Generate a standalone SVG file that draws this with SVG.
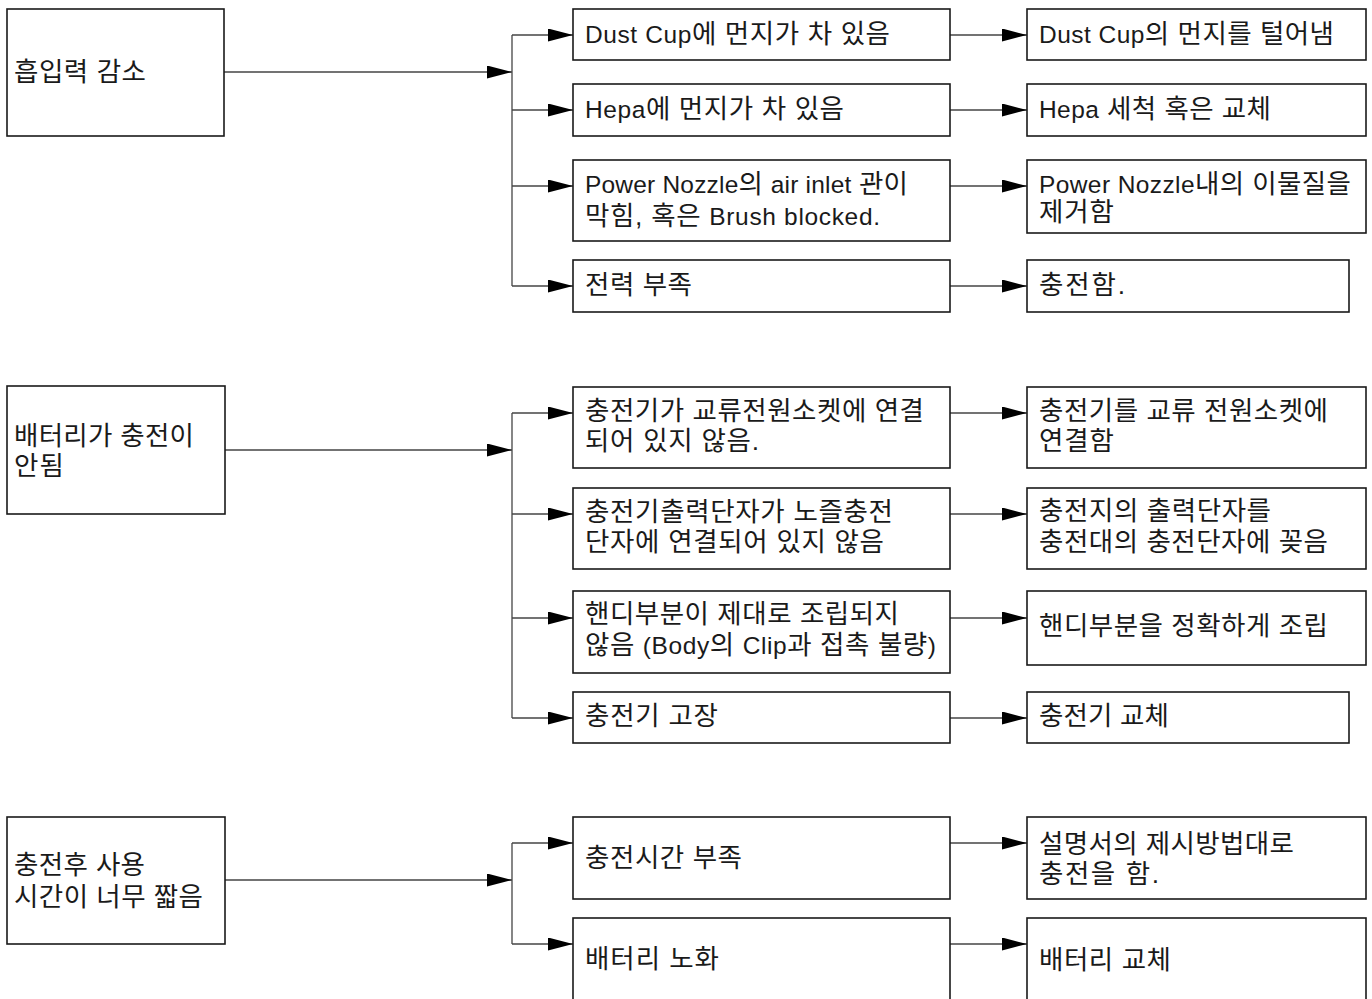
<svg xmlns="http://www.w3.org/2000/svg" width="1372" height="999" viewBox="0 0 1372 999">
<style>
.box{fill:#fff;stroke:#1a1a1a;stroke-width:1.6}
.t{font-family:"Liberation Sans","Noto Sans CJK KR",sans-serif;font-size:26.5px;fill:#1a1a1a}
.l{font-size:24.5px}
.c{fill:none;stroke:#444;stroke-width:1.3}
.a{fill:none;stroke:#444;stroke-width:1.3;marker-end:url(#ah)}
</style>
<defs>
<marker id="ah" markerUnits="userSpaceOnUse" markerWidth="26" markerHeight="14" refX="25" refY="6.5" orient="auto">
<path d="M0,0 L25,6.5 L0,13 z" fill="#000"/>
</marker>
</defs>
<rect x="0" y="0" width="1372" height="999" fill="#fff"/>

<g id="connectors">
<path class="a" d="M224,72 H512"/>
<path class="c" d="M512,35 V286"/>
<path class="a" d="M512,35 H573"/>
<path class="a" d="M512,110 H573"/>
<path class="a" d="M512,186 H573"/>
<path class="a" d="M512,286 H573"/>
<path class="a" d="M950,35 H1027"/>
<path class="a" d="M950,110 H1027"/>
<path class="a" d="M950,186 H1027"/>
<path class="a" d="M950,286 H1027"/>

<path class="a" d="M224,450 H512"/>
<path class="c" d="M512,413 V718"/>
<path class="a" d="M512,413 H573"/>
<path class="a" d="M512,514 H573"/>
<path class="a" d="M512,618 H573"/>
<path class="a" d="M512,718 H573"/>
<path class="a" d="M950,413 H1027"/>
<path class="a" d="M950,514 H1027"/>
<path class="a" d="M950,618 H1027"/>
<path class="a" d="M950,718 H1027"/>

<path class="a" d="M224,880 H512"/>
<path class="c" d="M512,843 V944"/>
<path class="a" d="M512,843 H573"/>
<path class="a" d="M512,944 H573"/>
<path class="a" d="M950,843 H1027"/>
<path class="a" d="M950,944 H1027"/>
</g>

<g id="p1">
<rect class="box" x="7" y="9" width="217" height="127"/>
<text class="t" x="14" y="81" textLength="132" lengthAdjust="spacing">흡입력 감소</text>
</g>
<g id="c1a">
<rect class="box" x="573" y="9" width="377" height="51"/>
<text class="t" x="585" y="43" textLength="305" lengthAdjust="spacing"><tspan class="l">Dust Cup</tspan>에 먼지가 차 있음</text>
</g>
<g id="c1b">
<rect class="box" x="573" y="84" width="377" height="52"/>
<text class="t" x="585" y="118" textLength="259" lengthAdjust="spacing"><tspan class="l">Hepa</tspan>에 먼지가 차 있음</text>
</g>
<g id="c1c">
<rect class="box" x="573" y="160" width="377" height="81"/>
<text class="t" x="585" y="193" textLength="323" lengthAdjust="spacing"><tspan class="l">Power Nozzle</tspan>의 <tspan class="l">air inlet</tspan> 관이</text>
<text class="t" x="585" y="225" textLength="295" lengthAdjust="spacing">막힘, 혹은 <tspan class="l">Brush blocked.</tspan></text>
</g>
<g id="c1d">
<rect class="box" x="573" y="260" width="377" height="52"/>
<text class="t" x="585" y="294" textLength="107" lengthAdjust="spacing">전력 부족</text>
</g>
<g id="s1a">
<rect class="box" x="1027" y="9" width="339" height="51"/>
<text class="t" x="1039" y="43" textLength="295" lengthAdjust="spacing"><tspan class="l">Dust Cup</tspan>의 먼지를 털어냄</text>
</g>
<g id="s1b">
<rect class="box" x="1027" y="84" width="339" height="52"/>
<text class="t" x="1039" y="118" textLength="232" lengthAdjust="spacing"><tspan class="l">Hepa</tspan> 세척 혹은 교체</text>
</g>
<g id="s1c">
<rect class="box" x="1027" y="160" width="339" height="73"/>
<text class="t" x="1039" y="193" textLength="312" lengthAdjust="spacing"><tspan class="l">Power Nozzle</tspan>내의 이물질을</text>
<text class="t" x="1039" y="221" textLength="75" lengthAdjust="spacing">제거함</text>
</g>
<g id="s1d">
<rect class="box" x="1027" y="260" width="322" height="52"/>
<text class="t" x="1039" y="294" textLength="86" lengthAdjust="spacing">충전함.</text>
</g>

<g id="p2">
<rect class="box" x="7" y="386" width="218" height="128"/>
<text class="t" x="14" y="445" textLength="180" lengthAdjust="spacing">배터리가 충전이</text>
<text class="t" x="14" y="475" textLength="50" lengthAdjust="spacing">안됨</text>
</g>
<g id="c2a">
<rect class="box" x="573" y="387" width="377" height="81"/>
<text class="t" x="585" y="420" textLength="339" lengthAdjust="spacing">충전기가 교류전원소켓에 연결</text>
<text class="t" x="585" y="450" textLength="174" lengthAdjust="spacing">되어 있지 않음.</text>
</g>
<g id="c2b">
<rect class="box" x="573" y="488" width="377" height="81"/>
<text class="t" x="585" y="521" textLength="308" lengthAdjust="spacing">충전기출력단자가 노즐충전</text>
<text class="t" x="585" y="551" textLength="299" lengthAdjust="spacing">단자에 연결되어 있지 않음</text>
</g>
<g id="c2c">
<rect class="box" x="573" y="591" width="377" height="82"/>
<text class="t" x="585" y="623" textLength="314" lengthAdjust="spacing">핸디부분이 제대로 조립되지</text>
<text class="t" x="585" y="654" textLength="351" lengthAdjust="spacing">않음 <tspan class="l">(Body</tspan>의 <tspan class="l">Clip</tspan>과 접촉 불량<tspan class="l">)</tspan></text>
</g>
<g id="c2d">
<rect class="box" x="573" y="692" width="377" height="51"/>
<text class="t" x="585" y="725" textLength="133" lengthAdjust="spacing">충전기 고장</text>
</g>
<g id="s2a">
<rect class="box" x="1027" y="387" width="339" height="81"/>
<text class="t" x="1039" y="420" textLength="289" lengthAdjust="spacing">충전기를 교류 전원소켓에</text>
<text class="t" x="1039" y="450" textLength="75" lengthAdjust="spacing">연결함</text>
</g>
<g id="s2b">
<rect class="box" x="1027" y="488" width="339" height="81"/>
<text class="t" x="1039" y="520" textLength="232" lengthAdjust="spacing">충전지의 출력단자를</text>
<text class="t" x="1039" y="551" textLength="289" lengthAdjust="spacing">충전대의 충전단자에 꽂음</text>
</g>
<g id="s2c">
<rect class="box" x="1027" y="591" width="339" height="74"/>
<text class="t" x="1039" y="635" textLength="289" lengthAdjust="spacing">핸디부분을 정확하게 조립</text>
</g>
<g id="s2d">
<rect class="box" x="1027" y="692" width="322" height="51"/>
<text class="t" x="1039" y="725" textLength="130" lengthAdjust="spacing">충전기 교체</text>
</g>

<g id="p3">
<rect class="box" x="7" y="817" width="218" height="127"/>
<text class="t" x="14" y="874" textLength="131" lengthAdjust="spacing">충전후 사용</text>
<text class="t" x="14" y="906" textLength="189" lengthAdjust="spacing">시간이 너무 짧음</text>
</g>
<g id="c3a">
<rect class="box" x="573" y="817" width="377" height="82"/>
<text class="t" x="585" y="867" textLength="157" lengthAdjust="spacing">충전시간 부족</text>
</g>
<g id="c3b">
<rect class="box" x="573" y="918" width="377" height="90"/>
<text class="t" x="585" y="968" textLength="134" lengthAdjust="spacing">배터리 노화</text>
</g>
<g id="s3a">
<rect class="box" x="1027" y="817" width="339" height="82"/>
<text class="t" x="1039" y="853" textLength="255" lengthAdjust="spacing">설명서의 제시방법대로</text>
<text class="t" x="1039" y="883" textLength="120" lengthAdjust="spacing">충전을 함.</text>
</g>
<g id="s3b">
<rect class="box" x="1027" y="918" width="339" height="90"/>
<text class="t" x="1039" y="969" textLength="132" lengthAdjust="spacing">배터리 교체</text>
</g>
</svg>
